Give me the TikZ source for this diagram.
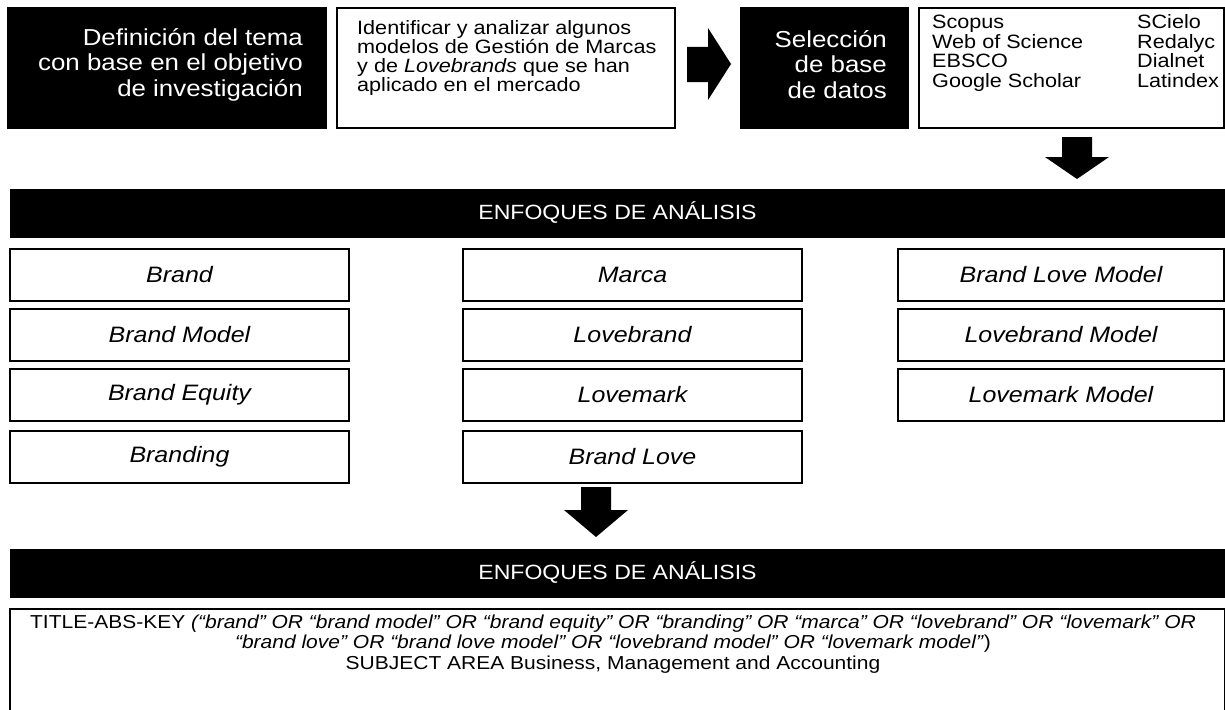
\documentclass[tikz,border=0pt]{standalone}
\usepackage{fontspec}
\setmainfont[FakeStretch=1.12]{Liberation Sans}
\begin{document}
\begin{tikzpicture}[x=1pt,y=-1pt,
  darkbox/.style={draw=black, fill=black, inner sep=0pt},
  framebox/.style={draw=black, line width=1.6pt, fill=white, inner sep=0pt},
  keyword/.style={framebox, minimum height=52pt, font=\fontsize{22.3}{26}\selectfont\itshape},
  band/.style={darkbox, text=white, minimum width=1215pt, minimum height=48pt,
    font=\fontsize{20.6}{24}\selectfont},
  bigtext/.style={inner sep=0pt, text=white, align=right, font=\fontsize{23.1}{25.5}\selectfont},
  smalltext/.style={inner sep=0pt, align=left, font=\fontsize{19.3}{19}\selectfont},
  blockarrow/.style={fill=black, draw=none}]
\useasboundingbox (0,0) rectangle (1225,709);

% ---- header row ----
\node[darkbox, minimum width=319pt, minimum height=121pt] (tema) at (166.5,67.5) {};
\node[bigtext, anchor=east] (temaTxt) at (303,64.5)
  {Definición del tema\\con base en el objetivo\\de investigación};

\node[framebox, minimum width=338pt, minimum height=120pt] (objetivo) at (506,68) {};
\node[smalltext, anchor=west] (objetivoTxt) at (357,58.5)
  {Identificar y analizar algunos\\modelos de Gestión de Marcas\\y de \textit{Lovebrands} que se han\\aplicado en el mercado};

\path[blockarrow] (687,47) -- (708,47) -- (708,28) -- (731,64) -- (708,100) -- (708,82) -- (687,82) -- cycle;

\node[darkbox, minimum width=168pt, minimum height=121pt] (seleccion) at (824,67.5) {};
\node[bigtext, anchor=east] (seleccionTxt) at (887,64.5)
  {Selección\\de base\\de datos};

\node[framebox, minimum width=305pt, minimum height=120pt] (bases) at (1071.5,68) {};
\node[smalltext, anchor=west] (basesTxt) at (932,54)
  {\renewcommand{\arraystretch}{0.97}%
   \begin{tabular}{@{}p{205pt}@{}l@{}}
   Scopus & SCielo\\
   Web of Science & Redalyc\\
   EBSCO & Dialnet\\
   Google Scholar & Latindex
   \end{tabular}};

\path[blockarrow] (1062,137) -- (1092,137) -- (1092,157) -- (1109,157) -- (1077,179)
  -- (1045,157) -- (1062,157) -- cycle;

% ---- first band and keyword grid ----
\node[band] (enfoques) at (617.5,213) {\raisebox{-2pt}{ENFOQUES DE ANÁLISIS}};

\node[keyword, minimum width=339pt] (k11) at (179.5,275) {\raisebox{-1.5pt}{Brand}};
\node[keyword, minimum width=339pt] (k12) at (179.5,335) {\raisebox{-1.5pt}{Brand Model}};
\node[keyword, minimum width=339pt] (k13) at (179.5,395) {\raisebox{-1.5pt}{Brand Equity}};
\node[keyword, minimum width=339pt] (k14) at (179.5,457) {\raisebox{-1.5pt}{Branding}};

\node[keyword, minimum width=339pt] (k21) at (632.5,275) {\raisebox{-1.5pt}{Marca}};
\node[keyword, minimum width=339pt] (k22) at (632.5,335) {\raisebox{-1.5pt}{Lovebrand}};
\node[keyword, minimum width=339pt] (k23) at (632.5,395) {\raisebox{-1.5pt}{Lovemark}};
\node[keyword, minimum width=339pt] (k24) at (632.5,457) {\raisebox{-1.5pt}{Brand Love}};

\node[keyword, minimum width=326pt] (k31) at (1061,275) {\raisebox{-1.5pt}{Brand Love Model}};
\node[keyword, minimum width=326pt] (k32) at (1061,335) {\raisebox{-1.5pt}{Lovebrand Model}};
\node[keyword, minimum width=326pt] (k33) at (1061,395) {\raisebox{-1.5pt}{Lovemark Model}};

\path[blockarrow] (581,487) -- (611,487) -- (611,510) -- (628,510) -- (596,537)
  -- (564,510) -- (581,510) -- cycle;

% ---- second band and search string ----
\node[band] (enfoques2) at (617.5,573) {\raisebox{-2pt}{ENFOQUES DE ANÁLISIS}};

\node[framebox, minimum width=1215pt, minimum height=110pt, anchor=north] (busqueda) at (617.5,608) {};
\node[inner sep=0pt, align=center, font=\fontsize{18.75}{20.5}\selectfont] (busquedaTxt) at (613,644)
  {TITLE-ABS-KEY \textit{(“brand” OR “brand model” OR “brand equity” OR “branding” OR “marca” OR “lovebrand” OR “lovemark” OR}\\
   \textit{“brand love” OR “brand love model” OR “lovebrand model” OR “lovemark model”})\\
   SUBJECT AREA Business, Management and Accounting};
\end{tikzpicture}
\end{document}
